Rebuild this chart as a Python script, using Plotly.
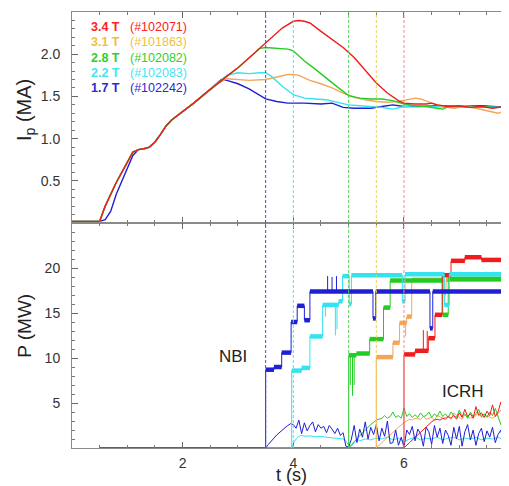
import plotly.graph_objects as go
import numpy as np

# ---------------- data ----------------
shots = ["3.4 T", "3.1 T", "2.8 T", "2.2 T", "1.7 T"]
shot_ids = ["(#102071)", "(#101863)", "(#102082)", "(#102083)", "(#102242)"]
nbi_start = [6.0, 5.5, 5.0, 4.0, 3.5]

ramp_t = [0, 0.5, 0.6, 0.7, 0.8, 0.9, 1.0, 1.1, 1.2, 1.3, 1.4, 1.5, 1.6, 1.7, 1.8, 1.9, 2.0, 2.2, 2.4, 2.6]
ramp_ip = [0.02, 0.02, 0.2, 0.35, 0.48, 0.6, 0.72, 0.84, 0.87, 0.88, 0.9, 0.96, 1.05, 1.15, 1.22, 1.27, 1.31, 1.42, 1.53, 1.64]

ip_red_t = [2.8, 3.0, 3.2, 3.5, 3.8, 4.0, 4.1, 4.2, 4.3, 4.5, 4.7, 4.9, 5.1, 5.3, 5.5, 5.7, 5.9, 6.0, 6.2, 6.4, 6.5, 6.6, 6.8, 7.0, 7.2, 7.4, 7.6, 7.8, 7.9]
ip_red = [1.74, 1.84, 1.96, 2.14, 2.31, 2.39, 2.40, 2.39, 2.37, 2.27, 2.17, 2.08, 1.96, 1.81, 1.66, 1.54, 1.45, 1.42, 1.41, 1.41, 1.42, 1.40, 1.38, 1.39, 1.37, 1.38, 1.36, 1.38, 1.37]

ip_orange_t = [2.8, 3.0, 3.2, 3.5, 3.7, 3.9, 4.0, 4.1, 4.3, 4.5, 4.7, 4.9, 5.1, 5.3, 5.5, 5.7, 5.9, 6.1, 6.2, 6.3, 6.5, 6.7, 6.9, 7.1, 7.3, 7.5, 7.7, 7.8, 7.9]
ip_orange = [1.71, 1.70, 1.69, 1.70, 1.73, 1.76, 1.76, 1.75, 1.69, 1.65, 1.60, 1.54, 1.49, 1.46, 1.44, 1.43, 1.44, 1.47, 1.48, 1.47, 1.42, 1.38, 1.36, 1.38, 1.36, 1.33, 1.30, 1.32, 1.38]

ip_green_t = [2.8, 3.0, 3.2, 3.4, 3.5, 3.7, 3.9, 4.0, 4.2, 4.4, 4.6, 4.8, 5.0, 5.2, 5.4, 5.6, 5.8, 6.0, 6.2, 6.4, 6.6, 6.7, 6.8, 7.0, 7.2, 7.4, 7.6, 7.9]
ip_green = [1.74, 1.84, 1.96, 2.07, 2.08, 2.07, 2.06, 2.04, 1.92, 1.82, 1.71, 1.61, 1.51, 1.48, 1.47, 1.47, 1.45, 1.41, 1.39, 1.38, 1.36, 1.35, 1.38, 1.38, 1.37, 1.38, 1.37, 1.37]

ip_cyan_t = [2.8, 3.0, 3.2, 3.4, 3.5, 3.6, 3.8, 4.0, 4.2, 4.4, 4.6, 4.8, 5.0, 5.2, 5.4, 5.6, 5.8, 6.0, 6.2, 6.4, 6.6, 6.8, 7.0, 7.5, 7.9]
ip_cyan = [1.75, 1.78, 1.77, 1.78, 1.78, 1.74, 1.62, 1.52, 1.48, 1.47, 1.46, 1.43, 1.40, 1.39, 1.38, 1.37, 1.35, 1.38, 1.39, 1.38, 1.38, 1.37, 1.38, 1.37, 1.37]

ip_blue_t = [0, 0.5, 0.6, 0.7, 0.8, 0.9, 1.0, 1.1, 1.2, 1.3, 1.4, 1.5, 1.6, 1.7, 1.8, 1.9, 2.0, 2.2, 2.4, 2.6, 2.7, 2.8, 3.0, 3.2, 3.4, 3.5, 3.7, 3.9, 4.2, 4.5, 4.7, 4.9, 5.1, 5.4, 5.6, 5.8, 6.0, 6.3, 6.6, 7.0, 7.4, 7.9]
ip_blue = [0.02, 0.02, 0.04, 0.14, 0.34, 0.49, 0.64, 0.8, 0.87, 0.88, 0.9, 0.96, 1.05, 1.15, 1.22, 1.27, 1.31, 1.42, 1.53, 1.65, 1.70, 1.69, 1.65, 1.59, 1.51, 1.47, 1.44, 1.42, 1.42, 1.41, 1.42, 1.37, 1.36, 1.36, 1.38, 1.40, 1.38, 1.38, 1.39, 1.38, 1.39, 1.37]

# NBI power: step levels (edges and values between edges)
nbi_red_edges = [6.0, 6.2, 6.44, 6.56, 6.69, 6.85, 7.1, 7.4, 7.9]
nbi_red_vals = [10.4, 10.8, 12.2, 14.8, 19.2, 20.8, 21.2, 20.9]
nbi_orange_edges = [5.5, 5.8, 5.92, 6.05, 6.14, 6.72, 6.76, 7.9]
nbi_orange_vals = [10.1, 11.7, 13.9, 14.6, 18.7, 17.2, 18.7]
nbi_green_edges = [5.0, 5.14, 5.38, 5.63, 5.75, 6.70, 6.80, 7.9]
nbi_green_vals = [10.3, 10.5, 12.1, 15.6, 18.6, 14.8, 18.8]
nbi_cyan_edges = [3.97, 4.15, 4.30, 4.53, 4.82, 4.89, 5.01, 5.05, 5.97, 6.02, 6.73, 6.82, 7.9]
nbi_cyan_vals = [8.6, 8.9, 12.4, 15.9, 16.3, 19.1, 16.0, 19.2, 16.3, 19.3, 15.9, 19.3]
nbi_blue_edges = [3.5, 3.65, 3.79, 3.96, 4.07, 4.2, 4.3, 5.44, 5.49, 6.47, 6.52, 7.9]
nbi_blue_vals = [8.7, 9.0, 10.6, 14.0, 15.8, 14.2, 17.4, 14.4, 17.4, 13.3, 17.4]

# thin NBI spikes (time, value)
spk_red_t = [6.35, 6.42]
spk_red_p = [13.1, 13.0]
spk_orange_t = [6.03]
spk_orange_p = [12.4]
spk_green_t = [5.03, 5.07, 5.10]
spk_green_p = [7.0, 5.8, 7.0]
spk_cyan_t = [4.58, 4.76, 4.79]
spk_cyan_p = [14.6, 12.5, 13.2]
spk_blue_t = [4.62, 4.70, 4.78]
spk_blue_p = [19.1, 19.0, 19.1]

# ICRH power
icrh_blue_t = [3.5, 3.55, 3.6, 3.65, 3.7, 3.75, 3.8, 3.85, 3.9, 3.95, 4.0, 4.05, 4.1, 4.15, 4.2, 4.25, 4.3, 4.35, 4.4, 4.45, 4.5, 4.55, 4.6, 4.65, 4.7, 4.75, 4.8, 4.85, 4.9, 4.95, 5.0, 5.05, 5.1, 5.15, 5.2, 5.25, 5.3, 5.35, 5.4, 5.45, 5.5, 5.55, 5.6, 5.65, 5.7, 5.75, 5.8, 5.85, 5.9, 5.95, 6.0, 6.05, 6.1, 6.15, 6.2, 6.25, 6.3, 6.35, 6.4, 6.45, 6.5, 6.55, 6.6, 6.65, 6.7, 6.75, 6.8, 6.85, 6.9, 6.95, 7.0, 7.05, 7.1, 7.15, 7.2, 7.25, 7.3, 7.35, 7.4, 7.45, 7.5, 7.55, 7.6, 7.65, 7.7, 7.75, 7.8, 7.85, 7.9]
icrh_blue = [0, 0.4, 0.8, 1.1, 1.45, 1.75, 2.0, 2.25, 2.5, 2.7, 2.6, 2.2, 3.1, 1.6, 2.8, 1.9, 2.5, 2.9, 1.8, 2.6, 2.2, 2.4, 1.7, 2.5, 2.1, 1.6, 2.2, 1.4, 1.7, 0.2, 0.1, 1.0, 2.5, 0.6, 2.1, 1.2, 2.9, 1.0, 2.3, 1.5, 2.6, 0.8, 2.2, 1.3, 3.0, 0.5, 0.6, 2.0, 0.3, 1.2, 0.1, 2.0, 1.5, 2.4, 0.8, 2.1, 1.6, 0.2, 2.3, 1.8, 0.4, 2.5, 1.2, 2.2, 0.5, 2.0, 1.4, 0.3, 2.3, 1.0, 2.4, 0.2, 1.8, 2.6, 0.9, 2.0, 0.3, 1.6, 2.2, 0.7, 1.9, 1.2, 2.3, 0.6, 1.5, 2.0, 0.4, 1.8, 1.2]
icrh_cyan_t = [3.97, 4.0, 4.05, 4.1, 4.15, 4.2, 4.3, 4.4, 4.5, 4.6, 4.7, 4.8, 4.9, 4.95, 5.0, 5.05, 5.1, 5.15, 5.2, 5.3, 5.4, 5.5, 5.6, 5.7, 5.8, 5.9, 6.0, 6.1, 6.2, 6.3, 6.4, 6.5, 6.6, 6.7, 6.8, 6.9, 7.0, 7.1, 7.2, 7.3, 7.4, 7.5, 7.6, 7.7, 7.8, 7.9]
icrh_cyan = [0, 0.5, 1.0, 1.3, 1.4, 1.3, 1.35, 1.25, 1.3, 1.2, 1.15, 1.1, 1.0, 0.8, 0.3, 0.2, 0.6, 1.0, 0.8, 1.0, 0.9, 1.1, 1.0, 1.2, 0.9, 1.1, 0.7, 1.0, 1.2, 0.9, 1.1, 1.0, 1.2, 0.9, 1.1, 1.2, 0.9, 1.1, 1.0, 1.2, 0.9, 1.1, 1.0, 1.2, 0.9, 1.0]
icrh_green_t = [5.0, 5.1, 5.2, 5.3, 5.4, 5.5, 5.55, 5.6, 5.65, 5.7, 5.75, 5.8, 5.85, 5.9, 5.95, 6.0, 6.05, 6.1, 6.15, 6.2, 6.25, 6.3, 6.35, 6.4, 6.45, 6.5, 6.55, 6.6, 6.65, 6.7, 6.75, 6.8, 6.85, 6.9, 6.95, 7.0, 7.05, 7.1, 7.15, 7.2, 7.25, 7.3, 7.35, 7.4, 7.45, 7.5, 7.55, 7.6, 7.65, 7.7, 7.75, 7.8, 7.85, 7.9]
icrh_green = [0, 0.7, 1.4, 2.0, 2.6, 3.1, 3.2, 3.3, 3.6, 3.3, 3.5, 4.0, 3.4, 3.6, 3.3, 4.4, 3.5, 3.8, 3.4, 3.7, 3.4, 3.9, 3.5, 3.6, 4.0, 3.4, 3.8, 3.5, 4.1, 3.5, 3.8, 3.4, 4.0, 3.6, 3.4, 4.2, 3.5, 3.8, 3.3, 4.0, 3.5, 3.8, 4.3, 3.5, 3.8, 3.4, 4.0, 3.6, 4.4, 3.5, 2.6, 3.5, 3.9, 3.4]
icrh_orange_t = [5.5, 5.6, 5.7, 5.8, 5.9, 6.0, 6.05, 6.1, 6.15, 6.2, 6.3, 6.35, 6.4, 6.5, 6.55, 6.6, 6.7, 6.8, 6.85, 6.9, 7.0, 7.05, 7.1, 7.2, 7.3, 7.35, 7.4, 7.5, 7.6, 7.7, 7.75, 7.8, 7.9]
icrh_orange = [0, 0.6, 1.2, 1.8, 2.3, 2.8, 3.0, 3.2, 3.1, 3.3, 3.2, 3.5, 3.2, 3.4, 3.1, 3.6, 3.3, 3.5, 3.2, 3.9, 3.4, 3.2, 3.7, 3.3, 3.6, 4.0, 3.4, 3.6, 3.3, 3.8, 4.2, 3.4, 3.6]
icrh_red_t = [6.0, 6.1, 6.2, 6.3, 6.4, 6.5, 6.55, 6.6, 6.65, 6.7, 6.75, 6.8, 6.85, 6.9, 6.95, 7.0, 7.05, 7.1, 7.15, 7.2, 7.25, 7.3, 7.35, 7.4, 7.45, 7.5, 7.55, 7.6, 7.65, 7.7, 7.75, 7.8, 7.85, 7.9]
icrh_red = [0, 0.6, 1.2, 1.8, 2.4, 2.9, 3.1, 3.2, 3.1, 3.3, 3.2, 3.5, 3.3, 3.6, 3.2, 3.9, 3.4, 4.3, 3.5, 3.8, 3.3, 4.6, 3.6, 3.9, 3.4, 4.1, 3.6, 4.8, 3.5, 4.0, 5.1, 3.7, 4.4, 3.8]

# ---------------- styling ----------------
C_RED, C_ORANGE, C_GREEN, C_CYAN, C_BLUE = "#f01c1c", "#f4a55a", "#22cc22", "#33e3f0", "#1f1fd6"
LEG_COLORS = ["#ff2020", "#f2bf3a", "#2fd02f", "#45e6f2", "#2a2ad0"]
VLINE_COLORS = ["#f08a8a", "#f0d050", "#55d055", "#50e0e8", "#4848e0"]
FONT = "Liberation Sans, Arial, sans-serif"

fig = go.Figure()

def line(x, y, color, yaxis="y", xaxis="x", width=1.4):
    fig.add_trace(go.Scatter(x=x, y=y, mode="lines", line=dict(color=color, width=width),
                             xaxis=xaxis, yaxis=yaxis, showlegend=False, hoverinfo="skip"))

# top panel
for tt, ii, col in [(ip_blue_t, ip_blue, C_BLUE), (ip_cyan_t, ip_cyan, C_CYAN),
                    (ip_orange_t, ip_orange, C_ORANGE), (ip_green_t, ip_green, C_GREEN),
                    (ip_red_t, ip_red, C_RED)]:
    if tt[0] > 0:
        tt = ramp_t + tt
        ii = ramp_ip + ii
    line(tt, ii, col)

# bottom panel: ICRH
for tt, pp, col in [(icrh_cyan_t, icrh_cyan, C_CYAN), (icrh_orange_t, icrh_orange, C_ORANGE),
                    (icrh_green_t, icrh_green, C_GREEN), (icrh_red_t, icrh_red, C_RED),
                    (icrh_blue_t, icrh_blue, C_BLUE)]:
    line([0.5] + tt, [0] + pp, col, yaxis="y2", xaxis="x2", width=1.0)

# bottom panel: NBI
def nbi(edges, vals, st, sp, col):
    fig.add_trace(go.Scatter(x=[0.5] + edges, y=[0] + vals + [vals[-1]], mode="lines",
                             line=dict(color=col, width=1, shape="hv"),
                             xaxis="x2", yaxis="y2", showlegend=False, hoverinfo="skip"))
    xs, ys = [], []
    for t, p in zip(st, sp):
        k = int(np.searchsorted(edges, t, side="right")) - 1
        k = min(max(k, 0), len(vals) - 1)
        xs += [t, t, None]
        ys += [vals[k], p, None]
    fig.add_trace(go.Scatter(x=xs, y=ys, mode="lines", line=dict(color=col, width=1),
                             xaxis="x2", yaxis="y2", showlegend=False, hoverinfo="skip"))
    xs, ys = [], []
    for i, v in enumerate(vals):
        xs += [edges[i], edges[i + 1], None]
        ys += [v, v, None]
    fig.add_trace(go.Scatter(x=xs, y=ys, mode="lines", line=dict(color=col, width=4.5),
                             xaxis="x2", yaxis="y2", showlegend=False, hoverinfo="skip"))

nbi(nbi_orange_edges, nbi_orange_vals, spk_orange_t, spk_orange_p, C_ORANGE)
nbi(nbi_green_edges, nbi_green_vals, spk_green_t, spk_green_p, C_GREEN)
nbi(nbi_red_edges, nbi_red_vals, spk_red_t, spk_red_p, C_RED)
nbi(nbi_cyan_edges, nbi_cyan_vals, spk_cyan_t, spk_cyan_p, C_CYAN)
nbi(nbi_blue_edges, nbi_blue_vals, spk_blue_t, spk_blue_p, C_BLUE)

# vertical dashed lines at NBI start
for t0, col in zip(nbi_start, VLINE_COLORS):
    fig.add_shape(type="line", xref="x", yref="paper", x0=t0, x1=t0, y0=0, y1=1,
                  line=dict(color=col, width=1, dash="3px,2px"), layer="above")

# legend text
leg_y = [2.32, 2.14, 1.96, 1.78, 1.60]
for name, sid, col, yv in zip(shots, shot_ids, LEG_COLORS, leg_y):
    fig.add_annotation(x=0.31, y=yv, xref="x", yref="y", text="<b>" + name + "</b>", showarrow=False,
                       xanchor="left", yanchor="middle", font=dict(family=FONT, size=12.5, color=col))
    fig.add_annotation(x=1.01, y=yv, xref="x", yref="y", text=sid, showarrow=False,
                       xanchor="left", yanchor="middle", font=dict(family=FONT, size=12.5, color=col))

fig.add_annotation(x=3.2, y=10.2, xref="x2", yref="y2", text="NBI", showarrow=False,
                   xanchor="right", yanchor="middle", font=dict(family=FONT, size=17, color="#222"))
fig.add_annotation(x=7.07, y=6.3, xref="x2", yref="y2", text="ICRH", showarrow=False,
                   xanchor="center", yanchor="middle", font=dict(family=FONT, size=17, color="#222"))

# axis titles (placed as annotations for exact position)
fig.add_annotation(x=-0.108, y=0.775, xref="paper", yref="paper", text="I<sub>p</sub> (MA)",
                   textangle=-90, showarrow=False, xanchor="center", yanchor="middle",
                   font=dict(family=FONT, size=20, color="#222"))
fig.add_annotation(x=-0.108, y=0.28, xref="paper", yref="paper", text="P (MW)",
                   textangle=-90, showarrow=False, xanchor="center", yanchor="middle",
                   font=dict(family=FONT, size=19, color="#222"))
fig.add_annotation(x=0.503, y=-0.061, xref="paper", yref="paper", text="t (s)",
                   showarrow=False, xanchor="center", yanchor="middle",
                   font=dict(family=FONT, size=18, color="#222"))

AX = dict(showline=True, linecolor="#8a8a8a", linewidth=1, mirror="ticks", ticks="inside",
          tickcolor="#666", ticklen=6, tickwidth=1, showgrid=False, zeroline=False, automargin=False,
          tickfont=dict(family=FONT, size=14, color="#333"),
          minor=dict(ticks="inside", ticklen=3, tickcolor="#777", showgrid=False))

XR = [0, 7.88]
# page body adds an 8px offset; size the figure so the plot area lands at x 72-508, y 12-448
fig.update_layout(
    width=501, height=478, margin=dict(l=64, r=1, t=4, b=38),
    paper_bgcolor="white", plot_bgcolor="white", showlegend=False,
    xaxis=dict(AX, range=XR, anchor="y", domain=[0, 1], showticklabels=False,
               tickvals=[2, 4, 6], minor=dict(AX["minor"], dtick=0.5, tick0=0)),
    xaxis2=dict(AX, range=XR, anchor="y2", domain=[0, 1], tickvals=[2, 4, 6],
                ticktext=["2", "4", "6"], ticklabelstandoff=2,
                minor=dict(AX["minor"], dtick=0.5, tick0=0)),
    yaxis=dict(AX, range=[0, 2.5], domain=[0.516, 1], anchor="x",
               tickvals=[0.5, 1.0, 1.5, 2.0], ticktext=["0.5", "1.0", "1.5", "2.0"],
               ticklabelstandoff=8, minor=dict(AX["minor"], dtick=0.1, tick0=0)),
    yaxis2=dict(AX, range=[0, 25], domain=[0, 0.516], anchor="x2",
                tickvals=[5, 10, 15, 20], ticktext=["5", "10", "15", "20"],
                ticklabelstandoff=8, minor=dict(AX["minor"], dtick=1, tick0=0)),
)

fig.write_html("out.html")
